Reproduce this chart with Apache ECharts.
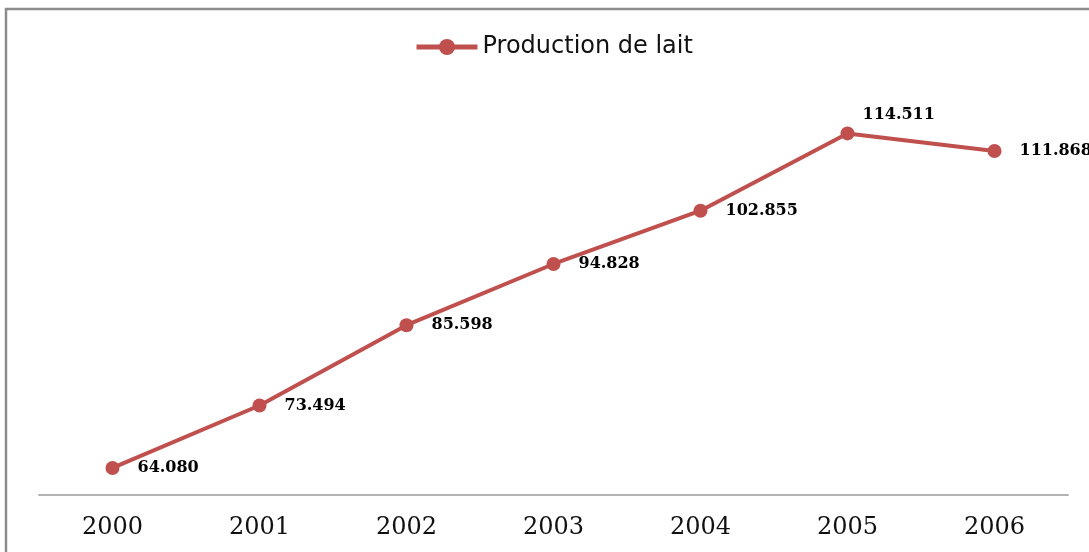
<!DOCTYPE html>
<html>
<head>
<meta charset="utf-8">
<script src="https://cdn.jsdelivr.net/npm/echarts@6/dist/echarts.min.js"></script>
<style>html,body{margin:0;padding:0;background:#fff;}#c{width:1089px;height:552px;}</style>
</head>
<body>
<div id="c"></div>
<script>
const categories = ['2000','2001','2002','2003','2004','2005','2006'];
const seriesName = 'Production de lait';
const values = [64.080, 73.494, 85.598, 94.828, 102.855, 114.511, 111.868];
const labels = ['64.080','73.494','85.598','94.828','102.855','114.511','111.868'];

const chart = echarts.init(document.getElementById('c'), null, {renderer:'canvas'});
const data = values.map((v,i)=>{
  const d = {value:v};
  if (i === 5) d.label = {offset:[-10,-19]};
  return d;
});
chart.setOption({
  animation:false,
  backgroundColor:'#fff',
  graphic:[{type:'rect', shape:{x:6,y:9,width:1200,height:700}, style:{fill:'none', stroke:'#8c8c8c', lineWidth:2.5}, silent:true, z:-1}],
  legend:{
    left:409, top:30,
    itemWidth:61, itemHeight:20,
    lineStyle:{width:5},
    textStyle:{fontFamily:'DejaVu Sans', fontSize:24, color:'#111'},
    data:[seriesName]
  },
  grid:{left:39, right:21, top:97, bottom:57},
  xAxis:{
    type:'category', data:categories, boundaryGap:true,
    axisLine:{lineStyle:{color:'#b3b3b3', width:2}},
    axisTick:{show:false},
    axisLabel:{fontFamily:'DejaVu Serif', fontSize:24, color:'#111', margin:21}
  },
  yAxis:{type:'value', min:60, max:120, show:false, splitLine:{show:false}},
  series:[{
    name:seriesName, type:'line', data:data,
    symbol:'circle', symbolSize:14,
    lineStyle:{color:'#C0504D', width:4},
    itemStyle:{color:'#C0504D'},
    label:{show:true, position:'right', distance:18,
      formatter:p=>labels[p.dataIndex],
      fontFamily:'DejaVu Serif', fontWeight:'bold', fontSize:16, color:'#000'}
  }]
});
</script>
</body>
</html>
